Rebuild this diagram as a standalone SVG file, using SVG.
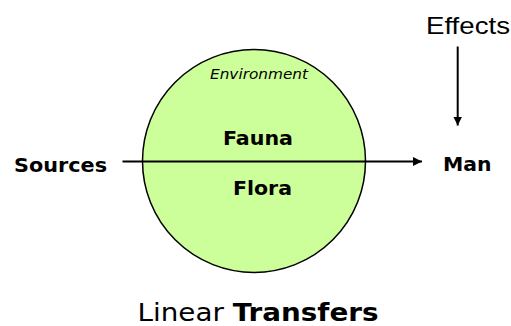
<svg xmlns="http://www.w3.org/2000/svg" width="511" height="326" viewBox="0 0 511 326">
  <style>
    .lbl { font-family: "DejaVu Sans", Verdana, sans-serif; font-weight: bold; font-size: 20px; fill: #000; }
    .env { font-family: "DejaVu Sans", Verdana, sans-serif; font-style: italic; font-size: 14.5px; fill: #000; }
    .eff { font-family: "Liberation Sans", Arial, sans-serif; font-size: 24px; fill: #000; }
    .title { font-family: "DejaVu Sans", Verdana, sans-serif; font-size: 24px; fill: #000; }
    .conn { stroke: #000; stroke-width: 2; fill: none; }
  </style>
  <defs>
    <marker id="arrow" markerWidth="10" markerHeight="10" refX="9" refY="5" orient="auto" markerUnits="userSpaceOnUse">
      <path d="M0,0.5 L9,5 L0,9.5 Z" fill="#000"/>
    </marker>
  </defs>
  <rect width="511" height="326" fill="#fff"/>

  <!-- environment sphere -->
  <g id="environment">
    <circle cx="254" cy="161" r="111.5" fill="#ccff99" stroke="#000" stroke-width="1.5"/>
    <text class="env" x="210" y="78.5" textLength="98" lengthAdjust="spacingAndGlyphs">Environment</text>
  </g>
  <g id="fauna">
    <text class="lbl" x="223" y="145" textLength="70" lengthAdjust="spacingAndGlyphs">Fauna</text>
  </g>
  <g id="flora">
    <text class="lbl" x="233" y="195" textLength="59" lengthAdjust="spacingAndGlyphs">Flora</text>
  </g>
  <g id="sources">
    <text class="lbl" x="14" y="171.5" textLength="93" lengthAdjust="spacingAndGlyphs">Sources</text>
  </g>
  <g id="man">
    <text class="lbl" x="443" y="171" textLength="48.5" lengthAdjust="spacingAndGlyphs">Man</text>
  </g>
  <g id="effects">
    <text class="eff" x="426" y="34" textLength="84" lengthAdjust="spacingAndGlyphs">Effects</text>
  </g>

  <!-- transfer paths -->
  <g id="connectors">
    <line class="conn" x1="122.5" y1="161.5" x2="422" y2="161.5" marker-end="url(#arrow)"/>
    <line class="conn" x1="457.7" y1="46.5" x2="457.7" y2="125.5" marker-end="url(#arrow)"/>
  </g>

  <text class="title" x="137.5" y="321" textLength="241" lengthAdjust="spacingAndGlyphs">Linear <tspan font-weight="bold">Transfers</tspan></text>
</svg>
